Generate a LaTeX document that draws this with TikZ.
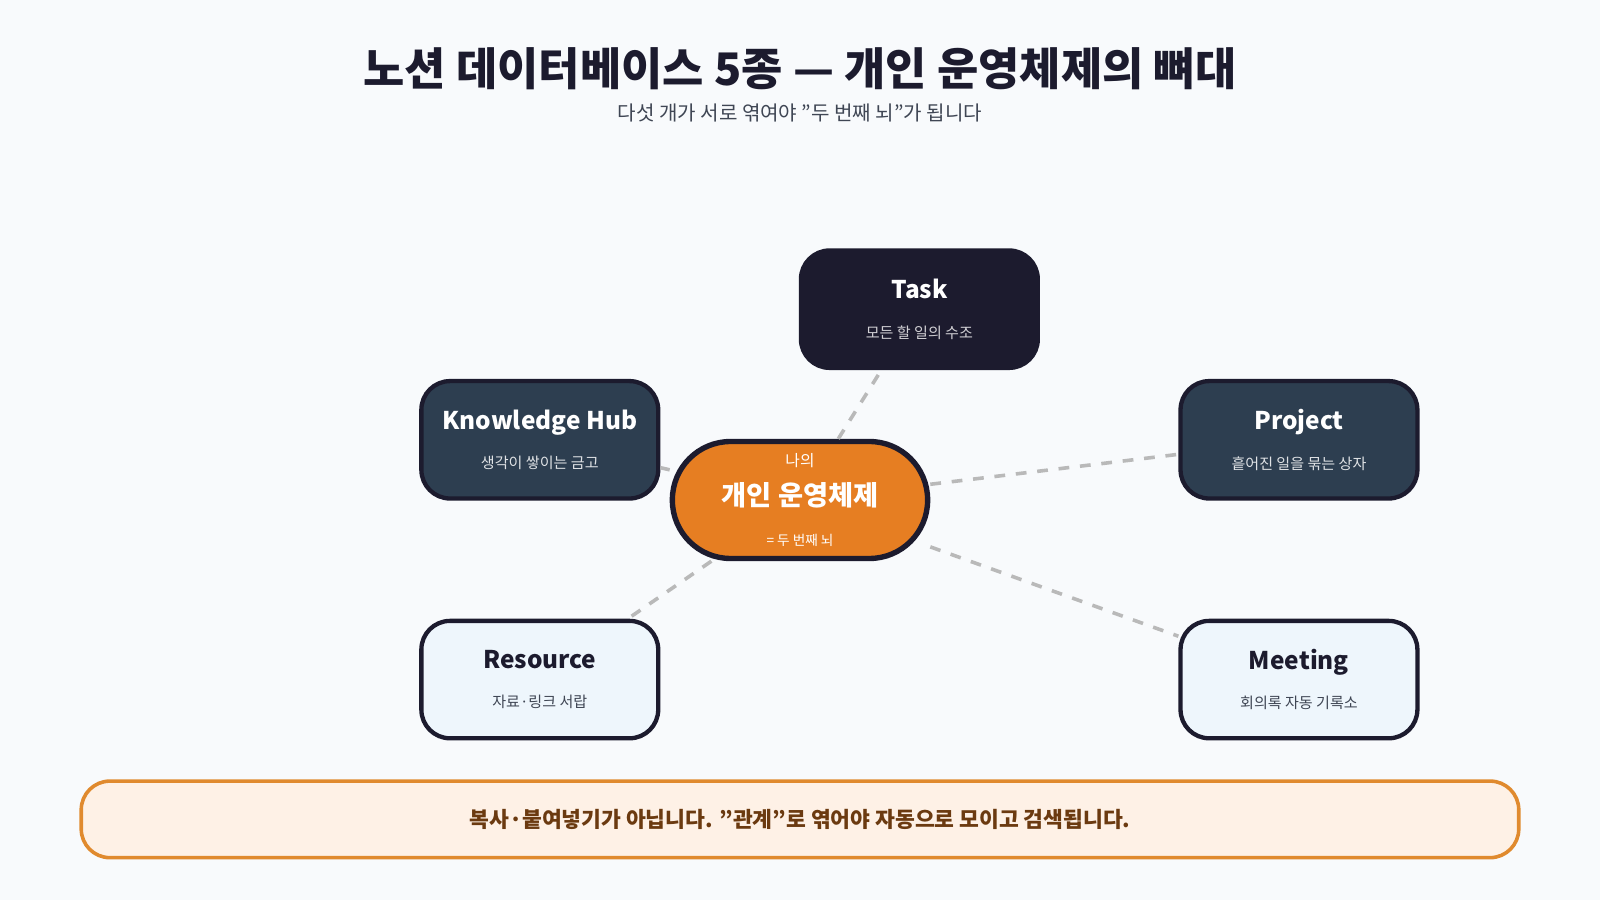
\documentclass[tikz,border=0pt]{standalone}
\usepackage{fontspec}
\setmainfont{Noto Sans CJK KR}
\usetikzlibrary{positioning}
\definecolor{bgpage}{HTML}{F8FAFC}
\definecolor{inkdark}{HTML}{1C1B2E}
\definecolor{navy}{HTML}{2D3E50}
\definecolor{paleblue}{HTML}{EEF6FC}
\definecolor{orangec}{HTML}{E67E22}
\definecolor{bannerfill}{HTML}{FEF1E6}
\definecolor{bannerline}{HTML}{E08A2E}
\definecolor{bannertext}{HTML}{6B3A10}
\definecolor{subgray}{HTML}{3F4654}
\tikzset{
  box/.style={rounded corners=8pt, draw=inkdark, line width=1.2pt,
    minimum width=2.32cm, minimum height=1.15cm, align=center},
  darkbox/.style={box, fill=navy, text=white},
  blackbox/.style={box, fill=inkdark, text=white},
  lightbox/.style={box, fill=paleblue, text=inkdark},
  link/.style={draw=gray!55, dashed, line width=1pt},
}
\newcommand{\boxtext}[2]{{\fontsize{6.8pt}{8pt}\selectfont\bfseries #1}\\[-1pt]{\fontsize{4.2pt}{5pt}\selectfont #2}}
\begin{document}
\begin{tikzpicture}[x=0.01cm,y=-0.01cm]
  \fill[bgpage] (0,0) rectangle (1568,882);
  % title
  \node (title) at (784,67) {\fontsize{12.5pt}{14pt}\selectfont\bfseries\color{inkdark}노션 데이터베이스 5종 — 개인 운영체제의 뼈대};
  \node (subtitle) at (784,111) {\fontsize{5.6pt}{7pt}\selectfont\color{subgray}다섯 개가 서로 엮여야 "두 번째 뇌"가 됩니다};

  \node[blackbox] (task) at (901,303) {\boxtext{Task}{\color{white!80!inkdark}모든 할 일의 수조}};
  \node[darkbox] (hub) at (529,431) {\boxtext{Knowledge Hub}{\color{white!85!navy}생각이 쌓이는 금고}};
  \node[darkbox] (project) at (1273,431) {\boxtext{Project}{\color{white!85!navy}흩어진 일을 묶는 상자}};
  \node[lightbox] (resource) at (529,666) {\boxtext{Resource}{\color{subgray}자료·링크 서랍}};
  \node[lightbox] (meeting) at (1273,666) {\boxtext{Meeting}{\color{subgray}회의록 자동 기록소}};

  \node[draw=inkdark, line width=1.5pt, fill=orangec, text=white, rounded corners=0.57cm,
    minimum width=2.5cm, minimum height=1.14cm, align=center] (core) at (784,490)
    {{\fontsize{4.4pt}{5pt}\selectfont 나의}\\[-1pt]{\fontsize{7.6pt}{9pt}\selectfont\bfseries 개인 운영체제}\\[-1pt]{\fontsize{3.8pt}{5pt}\selectfont = 두 번째 뇌}};

  % connectors
  \begin{scope}[on background layer/.style={}]
  \foreach \t in {task,hub,project,resource,meeting}
    \draw[link] (core) -- (\t);
  \end{scope}

  % banner
  \node[draw=bannerline, line width=1pt, fill=bannerfill, rounded corners=8pt,
    minimum width=14.08cm, minimum height=0.75cm] (banner) at (784,803)
    {\fontsize{6pt}{7pt}\selectfont\bfseries\color{bannertext}복사·붙여넣기가 아닙니다. "관계"로 엮어야 자동으로 모이고 검색됩니다.};
\end{tikzpicture}
\end{document}
